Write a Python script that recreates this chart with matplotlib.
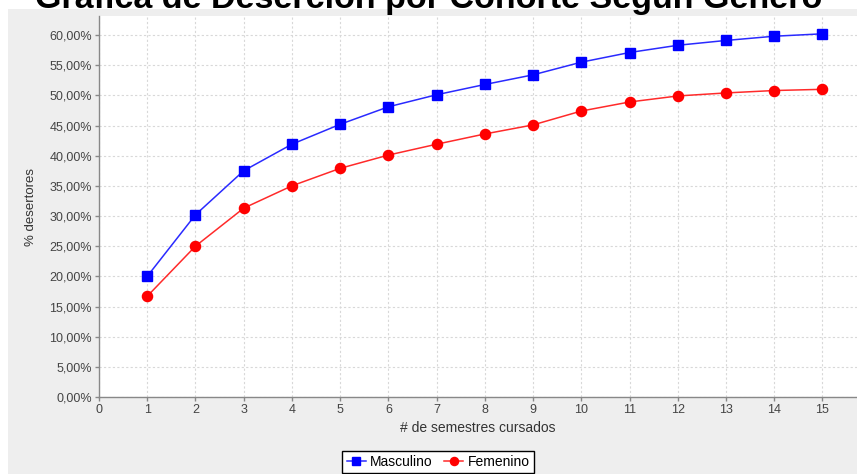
import matplotlib
matplotlib.use("Agg")
import matplotlib.pyplot as plt
from matplotlib.ticker import FuncFormatter, MultipleLocator
from matplotlib.patches import Rectangle

plt.rcParams['font.family'] = ['Liberation Sans', 'DejaVu Sans']

# data
semestres = [1, 2, 3, 4, 5, 6, 7, 8, 9, 10, 11, 12, 13, 14, 15]
masculino = [20.0, 30.2, 37.5, 41.9, 45.2, 48.1, 50.1, 51.8, 53.4, 55.5, 57.1, 58.3, 59.1, 59.8, 60.2]
femenino = [16.7, 25.0, 31.3, 35.0, 37.9, 40.1, 41.9, 43.6, 45.1, 47.4, 48.9, 49.9, 50.4, 50.8, 51.0]

titulo = "Gráfica de Deserción por Cohorte Según Género"

W, H = 857, 474
fig = plt.figure(figsize=(W / 100, H / 100), dpi=100, facecolor='#eeeeee')

# white strips (title band and left margin)
fig.patches.append(Rectangle((0, 1 - 9 / H), 1, 9 / H, transform=fig.transFigure,
                             facecolor='white', edgecolor='none', zorder=0))
fig.patches.append(Rectangle((0, 0), 8 / W, 1, transform=fig.transFigure,
                             facecolor='white', edgecolor='none', zorder=0))

ax = fig.add_axes([99 / W, 1 - 397 / H, (W - 99) / W, (397 - 16) / H])
ax.set_facecolor('white')

ax.plot(semestres, masculino, color='#2a2aff', lw=1.1, marker='s', ms=6.8,
        mfc='#0000ff', mec='#0000ff', label='Masculino', zorder=3)
ax.plot(semestres, femenino, color='#ff2a2a', lw=1.1, marker='o', ms=7.3,
        mfc='#ff0000', mec='#ff0000', label='Femenino', zorder=3)

ax.set_xlim(0, 758 / 48.23)
ax.set_ylim(0, 381 / 6.033)
ax.xaxis.set_major_locator(MultipleLocator(1))
ax.yaxis.set_major_locator(MultipleLocator(5))
ax.yaxis.set_major_formatter(FuncFormatter(lambda v, p: f"{v:.2f}".replace('.', ',') + '%'))

ax.grid(True, color='#d8d8d8', lw=0.8, ls=(0, (2, 2)))
ax.set_axisbelow(True)
for s in ['top', 'right']:
    ax.spines[s].set_visible(False)
for s in ['left', 'bottom']:
    ax.spines[s].set_color('#888888')
    ax.spines[s].set_linewidth(1)
ax.tick_params(axis='both', colors='#888888', length=3, width=1, labelsize=9,
               labelcolor='#444444', pad=2)

ax.set_xlabel('# de semestres cursados', fontsize=10, color='#333333', labelpad=4)
ax.set_ylabel('% desertores', fontsize=9.5, color='#333333', labelpad=9)

fig.text(0.5, 1 - 8 / H, titulo, ha='center', va='baseline', fontsize=24.5,
         fontweight='bold', color='black')

leg = fig.legend(loc='upper center', bbox_to_anchor=(438 / W, 1 - 444 / H), ncol=2,
                 frameon=True, fancybox=False, edgecolor='black', facecolor='white',
                 framealpha=1, fontsize=10, handlelength=1.4, handletextpad=0.3,
                 columnspacing=0.8, borderpad=0.3, markerscale=0.8)
leg.get_frame().set_linewidth(1)

fig.savefig('out.png', dpi=100, facecolor=fig.get_facecolor())
